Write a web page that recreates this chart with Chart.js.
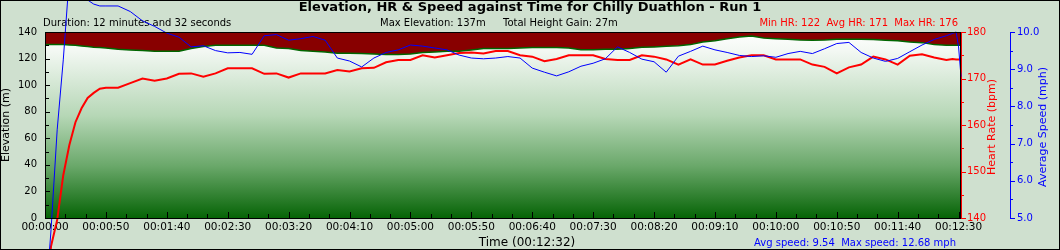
<!DOCTYPE html>
<html>
<head>
<meta charset="utf-8">
<script src="https://cdn.jsdelivr.net/npm/chart.js@4/dist/chart.umd.min.js"></script>
<style>
  html, body { margin: 0; padding: 0; background: #cfe0cf; }
  #wrap { width: 1060px; height: 250px; }
</style>
</head>
<body>
<div id="wrap"><canvas id="myChart" width="1060" height="250"></canvas></div>
<script>
"use strict";

// time in seconds from start
const times = [0, 5, 10, 15, 20, 25, 30, 35, 40, 45, 50,
  60, 70, 80, 90, 100, 110, 120, 130, 140, 150, 160, 170, 180, 190, 200,
  210, 220, 230, 240, 250, 260, 270, 280, 290, 300, 310, 320, 330, 340, 350,
  360, 370, 380, 390, 400, 410, 420, 430, 440, 450, 460, 470, 480, 490, 500,
  510, 520, 530, 540, 550, 560, 570, 580, 590, 600, 610, 620, 630, 640, 650,
  660, 670, 680, 690, 700, 710, 720, 730, 740, 745, 748, 750, 752];

// elevation (m)
const elevation = [130.6, 130.6, 130.6, 130.5, 130.2, 130, 129.5, 129, 128.5, 128.3, 128,
  127, 126.5, 126, 125.5, 125.5, 125.5, 127.5, 129, 130, 130, 130, 130, 130, 128, 127.5,
  126, 125.5, 125, 124, 124, 123.8, 123.5, 123, 123, 123.5, 124.5, 125, 125.5, 125.5, 126.5,
  127.5, 127.5, 127.5, 128, 128.4, 128.4, 128.4, 128, 126.7, 126.7, 127, 127, 127.5, 128.5, 128.8,
  129.2, 129.7, 130.5, 132.5, 133.5, 135, 136.3, 137, 135.5, 135, 134.5, 134, 133.8, 134, 134.6,
  134.6, 134.6, 134.3, 133.8, 133.5, 132.5, 132, 130.5, 130, 130, 130, 130, 130];

// heart rate (bpm)
const heartRate = [122, 134, 139.6, 149.2, 155.7, 160.6, 163.6, 165.8, 166.9, 167.8, 168,
  168, 169, 170, 169.5, 170, 171, 171.1, 170.4, 171.1, 172.2, 172.2, 172.2, 171, 171.1, 170.2,
  171.1, 171.1, 171.1, 171.8, 171.5, 172.2, 172.3, 173.5, 174, 174, 175, 174.5, 175, 175.5, 175.6,
  175.4, 175.9, 175.9, 175, 174.7, 173.7, 174.2, 175, 175, 175, 174.2, 174, 174, 175, 174.7,
  174.1, 173, 174.1, 173, 173, 173.8, 174.5, 175, 175, 174.1, 174.1, 174.1, 173, 172.5, 171.1,
  172.4, 173, 174.7, 174.1, 173, 174.9, 175.2, 174.5, 174, 174.2, 174.1, 174.1, 174.1];

// average speed (mph)
const speed = [2.5, 4.7, 7.37, 9.25, 11.5, 12.68, 11.8, 10.86, 10.75, 10.7, 10.7,
  10.7, 10.55, 10.3, 10.15, 9.97, 9.86, 9.6, 9.63, 9.5, 9.44, 9.45, 9.4, 9.9, 9.93, 9.78,
  9.82, 9.88, 9.78, 9.3, 9.22, 9.06, 9.3, 9.45, 9.52, 9.65, 9.62, 9.57, 9.52, 9.38, 9.3,
  9.28, 9.3, 9.34, 9.3, 9.03, 8.92, 8.82, 8.93, 9.08, 9.16, 9.28, 9.6, 9.45, 9.27, 9.2,
  8.92, 9.35, 9.48, 9.62, 9.52, 9.45, 9.37, 9.34, 9.36, 9.32, 9.42, 9.48, 9.42, 9.55, 9.69,
  9.72, 9.45, 9.3, 9.21, 9.29, 9.47, 9.65, 9.8, 9.9, 9.96, 10.0, 9.6, 8.8];

// labelled time ticks (s)
const timeTicks = [0, 50, 100, 150, 200, 250, 300, 350, 400, 450, 500, 550, 600, 650, 700, 750];

const totalSeconds = 752;
const font = "'DejaVu Sans', Verdana, sans-serif";

function fmtTime(s) {
  const h = Math.floor(s / 3600), m = Math.floor(s % 3600 / 60), sec = Math.round(s % 60);
  return [h, m, sec].map(n => String(n).padStart(2, '0')).join(':');
}

function pts(arr) {
  return times.map((t, i) => ({x: t, y: arr[i]}));
}

// background, plot colour, texts
const decor = {
  id: 'decor',
  beforeDraw(chart) {
    const {ctx, chartArea: a} = chart;
    ctx.save();
    ctx.fillStyle = '#cfe0cf';
    ctx.fillRect(0, 0, chart.width, chart.height);
    ctx.fillStyle = '#880000';
    ctx.fillRect(a.left, a.top, a.right - a.left, a.bottom - a.top);
    ctx.restore();
  },
  beforeDatasetsDraw(chart) {
    const ctx = chart.ctx;
    ctx.save();
    ctx.textBaseline = 'middle';
    ctx.fillStyle = '#000';
    ctx.font = 'bold 13px ' + font;
    ctx.textAlign = 'center';
    ctx.fillText('Elevation, HR & Speed against Time for Chilly Duathlon - Run 1', 530, 8);

    ctx.font = '10px ' + font;
    ctx.textAlign = 'left';
    ctx.fillText('Duration: 12 minutes and 32 seconds', 43, 23);
    ctx.fillText('Max Elevation: 137m', 380, 23);
    ctx.fillText('Total Height Gain: 27m', 503, 23);
    ctx.fillStyle = '#ff0000';
    ctx.textAlign = 'right';
    ctx.fillText('Min HR: 122  Avg HR: 171  Max HR: 176', 958, 23);

    ctx.fillStyle = '#0000ff';
    ctx.fillText('Avg speed: 9.54  Max speed: 12.68 mph', 956, 243);
    ctx.fillStyle = '#000';
    ctx.font = '12px ' + font;
    ctx.textAlign = 'center';
    ctx.fillText('Time (' + fmtTime(totalSeconds) + ')', 527, 243);

    // right axis titles, reading bottom to top
    const mid = (chart.chartArea.top + chart.chartArea.bottom) / 2;
    ctx.font = '11px ' + font;
    ctx.save();
    ctx.translate(992, mid + 2);
    ctx.rotate(-Math.PI / 2);
    ctx.fillStyle = '#ff0000';
    ctx.fillText('Heart Rate (bpm)', 0, 0);
    ctx.restore();
    ctx.save();
    ctx.translate(1043, mid + 2);
    ctx.rotate(-Math.PI / 2);
    ctx.fillStyle = '#0000ff';
    ctx.fillText('Average Speed (mph)', 0, 0);
    ctx.restore();
    ctx.restore();
  },
  afterDatasetsDraw(chart) {
    const {ctx, chartArea: a, scales} = chart;
    ctx.save();
    ctx.lineWidth = 1;

    // time ticks, inside the plot
    ctx.strokeStyle = '#000';
    ctx.beginPath();
    for (let i = 0; i * 50 / 3 <= totalSeconds; i++) {
      const x = Math.round(scales.x.getPixelForValue(i * 50 / 3)) + 0.5;
      const len = i % 3 === 0 ? 6 : 4;
      ctx.moveTo(x, a.bottom);
      ctx.lineTo(x, a.bottom - len);
    }
    // elevation ticks, inside
    for (let v = 0; v <= 140; v += 10) {
      const y = Math.round(scales.y.getPixelForValue(v)) + 0.5;
      ctx.moveTo(a.left, y);
      ctx.lineTo(a.left + (v % 20 === 0 ? 5 : 4), y);
    }
    ctx.stroke();
    // frame
    ctx.strokeRect(a.left + 0.5, a.top + 0.5, a.right - a.left - 1, a.bottom - a.top);

    // heart rate ticks
    ctx.strokeStyle = '#ff0000';
    ctx.beginPath();
    for (let v = 140; v <= 180; v += 5) {
      const y = Math.round(scales.hr.getPixelForValue(v)) + 0.5;
      ctx.moveTo(scales.hr.left, y);
      ctx.lineTo(scales.hr.left + (v % 10 === 0 ? 5 : 3), y);
    }
    ctx.stroke();

    // speed ticks
    ctx.strokeStyle = '#0000ff';
    ctx.beginPath();
    for (let v = 5; v <= 10; v += 0.5) {
      const y = Math.round(scales.sp.getPixelForValue(v)) + 0.5;
      ctx.moveTo(scales.sp.left, y);
      ctx.lineTo(scales.sp.left + (v % 1 === 0 ? 5 : 3), y);
    }
    ctx.stroke();
    ctx.restore();
  },
  afterDraw(chart) {
    const ctx = chart.ctx;
    ctx.save();
    ctx.strokeStyle = '#000';
    ctx.lineWidth = 1;
    ctx.strokeRect(0.5, 0.5, chart.width - 1, chart.height - 1);
    ctx.restore();
  }
};

const ctx = document.getElementById('myChart').getContext('2d');

new Chart(ctx, {
  type: 'line',
  data: {
    datasets: [
      {
        label: 'Speed',
        data: pts(speed),
        yAxisID: 'sp',
        borderColor: '#0000ff',
        borderWidth: 1,
        pointRadius: 0,
        clip: false,
        order: 1
      },
      {
        label: 'Heart Rate',
        data: pts(heartRate),
        yAxisID: 'hr',
        borderColor: '#ff0000',
        borderWidth: 2,
        pointRadius: 0,
        clip: false,
        order: 2
      },
      {
        label: 'Elevation',
        data: pts(elevation),
        yAxisID: 'y',
        borderColor: '#006600',
        borderWidth: 1.5,
        pointRadius: 0,
        fill: 'origin',
        backgroundColor: function (c) {
          const a = c.chart.chartArea;
          if (!a) return '#80b080';
          const g = c.chart.ctx.createLinearGradient(0, a.top, 0, a.bottom);
          g.addColorStop(0, '#ffffff');
          g.addColorStop(0.1, '#f3f8f3');
          g.addColorStop(0.45, '#b6d7b6');
          g.addColorStop(0.72, '#6aa86a');
          g.addColorStop(1, '#066406');
          return g;
        },
        order: 3
      }
    ]
  },
  options: {
    responsive: false,
    animation: false,
    devicePixelRatio: 1,
    events: [],
    layout: { padding: { top: 32, left: 0, right: 0, bottom: 0 } },
    plugins: {
      legend: { display: false },
      tooltip: { enabled: false }
    },
    scales: {
      x: {
        type: 'linear',
        position: 'bottom',
        min: 0,
        max: totalSeconds,
        grid: { display: false },
        border: { display: true, color: '#000' },
        ticks: {
          autoSkip: false,
          maxRotation: 0,
          padding: -5,
          color: '#000',
          font: { family: font, size: 10.5 },
          callback: v => fmtTime(v)
        },
        afterBuildTicks: s => { s.ticks = timeTicks.map(v => ({value: v})); },
        afterFit: s => { s.height = 32; }
      },
      y: {
        position: 'left',
        min: 0,
        max: 140,
        grid: { display: false },
        border: { display: true, color: '#000' },
        ticks: { stepSize: 20, padding: 0, color: '#000', font: { family: font, size: 10 } },
        title: { display: true, text: 'Elevation (m)', color: '#000', padding: 0, font: { family: font, size: 11 } },
        afterFit: s => { s.width = 45; }
      },
      hr: {
        position: 'right',
        weight: 1,
        min: 140,
        max: 180,
        grid: { display: false },
        border: { display: true, color: '#ff0000' },
        ticks: { stepSize: 10, padding: -2, color: '#ff0000', font: { family: font, size: 10 } },
        afterFit: s => { s.width = 49; }
      },
      sp: {
        position: 'right',
        weight: 2,
        min: 5,
        max: 10,
        grid: { display: false },
        border: { display: true, color: '#0000ff' },
        ticks: { stepSize: 1, padding: -1, color: '#0000ff', font: { family: font, size: 10 },
          callback: v => v.toFixed(1) },
        afterFit: s => { s.width = 50; }
      }
    }
  },
  plugins: [decor]
});
</script>
</body>
</html>
